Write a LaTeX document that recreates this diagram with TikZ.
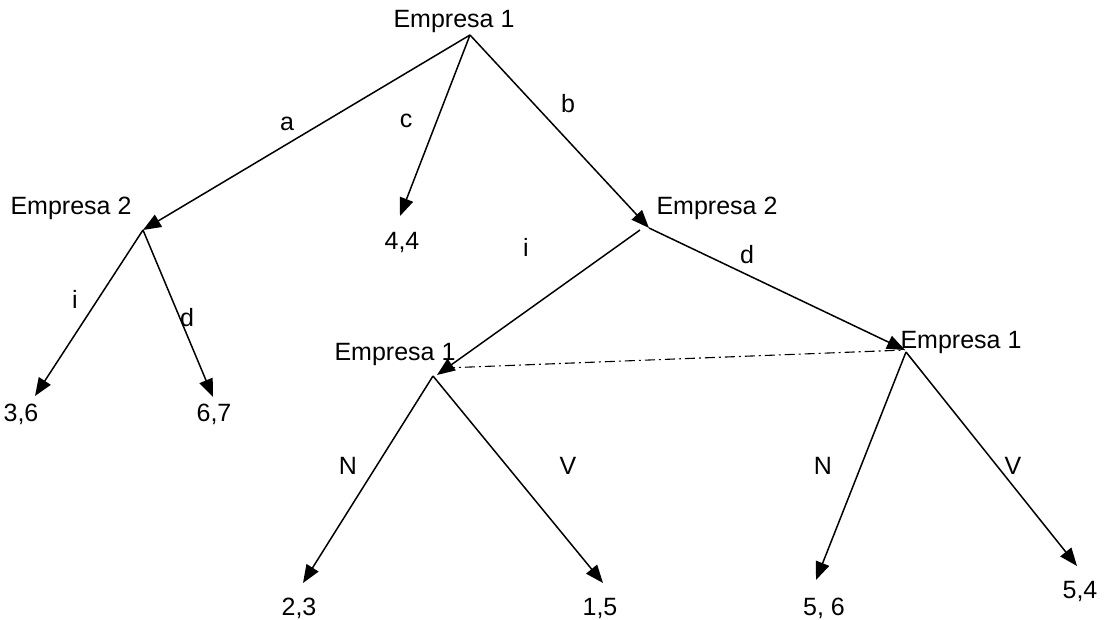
\documentclass[tikz,border=0pt]{standalone}
\usepackage{fontspec}
\setmainfont{Liberation Sans}
\usetikzlibrary{arrows.meta}
\begin{document}
\begin{tikzpicture}[x=1pt,y=-1pt,
  every node/.style={font=\fontsize{25}{30}\selectfont, inner sep=0pt, anchor=base},
  edge/.style={line width=1.5pt, -{Triangle[length=18pt,width=14pt]}},
  info/.style={line width=1.1pt, dash pattern=on 10pt off 4pt on 2pt off 4pt}]
\useasboundingbox (0,0) rectangle (1112,620);
% decision points
\coordinate (r) at (470,35);
\coordinate (L2) at (143,230);
\coordinate (R2) at (649,228);
\coordinate (M1) at (437,375);
\coordinate (Q1) at (905,350);
% terminal arrow tips
\coordinate (t44) at (400,216);
\coordinate (t36) at (35,396);
\coordinate (t67) at (213,397);
\coordinate (t23) at (303,583);
\coordinate (t15) at (603,583);
\coordinate (t56) at (816,580);
\coordinate (t54) at (1077,566);
% texts
\node (nr) at (454,28) {Empresa 1};
\node (nL2) at (71,215) {Empresa 2};
\node (nR2) at (717,215) {Empresa 2};
\node (nM1) at (395,361) {Empresa 1};
\node (nQ1) at (961,349) {Empresa 1};
\node (p44) at (402,250) {4,4};
\node (p36) at (21,421) {3,6};
\node (p67) at (214,421) {6,7};
\node (p23) at (299,615) {2,3};
\node (p15) at (600,615) {1,5};
\node (p56) at (824,615) {5, 6};
\node (p54) at (1080,598) {5,4};
% edges
\draw[edge] (r) -- (L2);
\draw[edge] (r) -- (t44);
\draw[edge] (r) -- (R2);
\draw[edge] (L2) -- (t36);
\draw[edge] (L2) -- (t67);
\draw[edge] (640,230) -- (M1);
\draw[edge] (R2) -- (Q1);
\draw[edge] (433,376) -- (t23);
\draw[edge] (433,376) -- (t15);
\draw[edge] (906,352) -- (t56);
\draw[edge] (906,352) -- (t54);
\draw[info] (445,368) -- (Q1);
% edge labels
\node (la) at (287,131) {a};
\node (lc) at (406,128) {c};
\node (lb) at (568,113) {b};
\node (li1) at (75,309) {i};
\node (ld1) at (187,327) {d};
\node (li2) at (526,257) {i};
\node (ld2) at (747,264) {d};
\node (lN1) at (348,475) {N};
\node (lV1) at (568,475) {V};
\node (lN2) at (823,475) {N};
\node (lV2) at (1013,475) {V};
\end{tikzpicture}
\end{document}
